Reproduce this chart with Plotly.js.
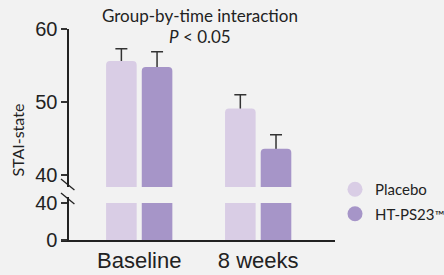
<!DOCTYPE html>
<html>
<head>
<meta charset="utf-8">
<script src="https://cdn.plot.ly/plotly-3.0.1.min.js"></script>
<style>html,body{margin:0;padding:0;background:#f2f2f2;}#chart{width:444px;height:275px;}</style>
</head>
<body>
<div id="chart"></div>
<script>
// Data
var categories = ["Baseline", "8 weeks"];
var seriesNames = ["Placebo", "HT-PS23<span style='font-size:13px'>™</span>"];
var placeboValues = [55.6, 49.1];
var placeboErrors = [1.7, 1.9];
var htValues = [54.8, 43.6];
var htErrors = [2.1, 1.9];
var topTicks = [40, 50, 60];
var bottomTicks = [0, 40];
var breakValue = 40;

var colors = ["#d9cde5", "#a695c8"];

function clipped(vals){ return vals.map(function(v){ return Math.min(v, breakValue); }); }

var errStyle = {color:"#333", thickness:1.5, width:6};
function errOf(arr){ return {type:"data", symmetric:true, array:arr, color:errStyle.color, thickness:errStyle.thickness, width:errStyle.width}; }

var traces = [
  // error bar carriers (drawn first; the lower half is covered by the bars)
  {type:"bar", x:categories, y:placeboValues, yaxis:"y2", offsetgroup:"p", showlegend:false,
   marker:{color:"rgba(0,0,0,0)"}, error_y:errOf(placeboErrors)},
  {type:"bar", x:categories, y:htValues, yaxis:"y2", offsetgroup:"h", showlegend:false,
   marker:{color:"rgba(0,0,0,0)"}, error_y:errOf(htErrors)},
  // top panel bars
  {type:"bar", x:categories, y:placeboValues, yaxis:"y2", offsetgroup:"p", name:seriesNames[0], showlegend:false,
   marker:{color:colors[0], cornerradius:4}},
  {type:"bar", x:categories, y:htValues, yaxis:"y2", offsetgroup:"h", name:seriesNames[1], showlegend:false,
   marker:{color:colors[1], cornerradius:4}},
  // bottom panel bars
  {type:"bar", x:categories, y:clipped(placeboValues), yaxis:"y", offsetgroup:"p", name:seriesNames[0], showlegend:false,
   marker:{color:colors[0]}},
  {type:"bar", x:categories, y:clipped(htValues), yaxis:"y", offsetgroup:"h", name:seriesNames[1], showlegend:false,
   marker:{color:colors[1]}},
  // legend entries
  {type:"scatter", mode:"markers", x:[null], y:[null], name:seriesNames[0], legendgroup:"a",
   marker:{color:colors[0], size:15, symbol:"circle"}},
  {type:"scatter", mode:"markers", x:[null], y:[null], name:seriesNames[1], legendgroup:"b",
   marker:{color:colors[1], size:15, symbol:"circle"}}
];

var L = 61, R = 357, T = 29, B = 240;
var W = R - L, H = B - T;
var yAxisPos = (68 - L) / W;

var layout = {
  width:444, height:275,
  paper_bgcolor:"#f2f2f2", plot_bgcolor:"#f2f2f2",
  margin:{l:L, r:444-R, t:T, b:275-B, pad:0},
  barmode:"group", bargap:0.4, bargroupgap:0.143,
  showlegend:true,
  legend:{xref:"container", yref:"container", x:335/444, xanchor:"left", y:1-173/275, yanchor:"top", bgcolor:"rgba(0,0,0,0)",
          font:{family:"Lato, sans-serif", size:15, color:"#222"}, tracegroupgap:2, itemwidth:30},
  xaxis:{type:"category", range:[-(145.5-L)/128.5, 1+(R-274)/128.5], domain:[0,1],
         showline:true, linecolor:"#222", linewidth:1.5, ticks:"", showgrid:false, zeroline:false,
         tickfont:{family:"Liberation Sans, Arial, sans-serif", size:22, color:"#222"}},
  yaxis:{domain:[0,(B-197)/H], range:[0, breakValue*(B-197)/(B-203)], anchor:"free", position:yAxisPos,
         tickvals:bottomTicks, ticktext:bottomTicks.map(String), ticks:"outside", ticklen:6, tickwidth:1.2, tickcolor:"#333",
         showline:true, linecolor:"#222", linewidth:1.5, showgrid:false, zeroline:false,
         tickfont:{family:"Liberation Sans, Arial, sans-serif", size:20, color:"#222"}},
  yaxis2:{domain:[(B-187)/H,1], range:[60-(187-29)/7.3, 60], anchor:"free", position:yAxisPos,
         tickvals:topTicks, ticktext:topTicks.map(String), ticks:"outside", ticklen:6, tickwidth:1.2, tickcolor:"#333",
         showline:true, linecolor:"#222", linewidth:1.5, showgrid:false, zeroline:false,
         tickfont:{family:"Liberation Sans, Arial, sans-serif", size:20, color:"#222"}},
  shapes:[
    {type:"line", xref:"paper", yref:"paper", x0:(61-L)/W, x1:(75.5-L)/W, y0:(B-179)/H, y1:(B-190)/H, line:{color:"#222", width:1.3}},
    {type:"line", xref:"paper", yref:"paper", x0:(61-L)/W, x1:(75.5-L)/W, y0:(B-193)/H, y1:(B-204)/H, line:{color:"#222", width:1.3}}
  ],
  annotations:[
    {text:"Group-by-time interaction", xref:"paper", yref:"paper", x:(211-L)/W, y:(B-16)/H, xanchor:"center", yanchor:"middle",
     showarrow:false, font:{family:"Lato, sans-serif", size:17, color:"#222"}},
    {text:"<i>P</i> < 0.05", xref:"paper", yref:"paper", x:(211-L)/W, y:(B-37)/H, xanchor:"center", yanchor:"middle",
     showarrow:false, font:{family:"Lato, sans-serif", size:17, color:"#222"}},
    {text:"STAI-state", xref:"paper", yref:"paper", x:(13-L)/W, y:(B-140)/H, xanchor:"center", yanchor:"middle",
     textangle:-90, showarrow:false, font:{family:"Lato, sans-serif", size:16, color:"#222"}}
  ]
};

Plotly.newPlot("chart", traces, layout, {displayModeBar:false, staticPlot:true});
</script>
</body>
</html>
